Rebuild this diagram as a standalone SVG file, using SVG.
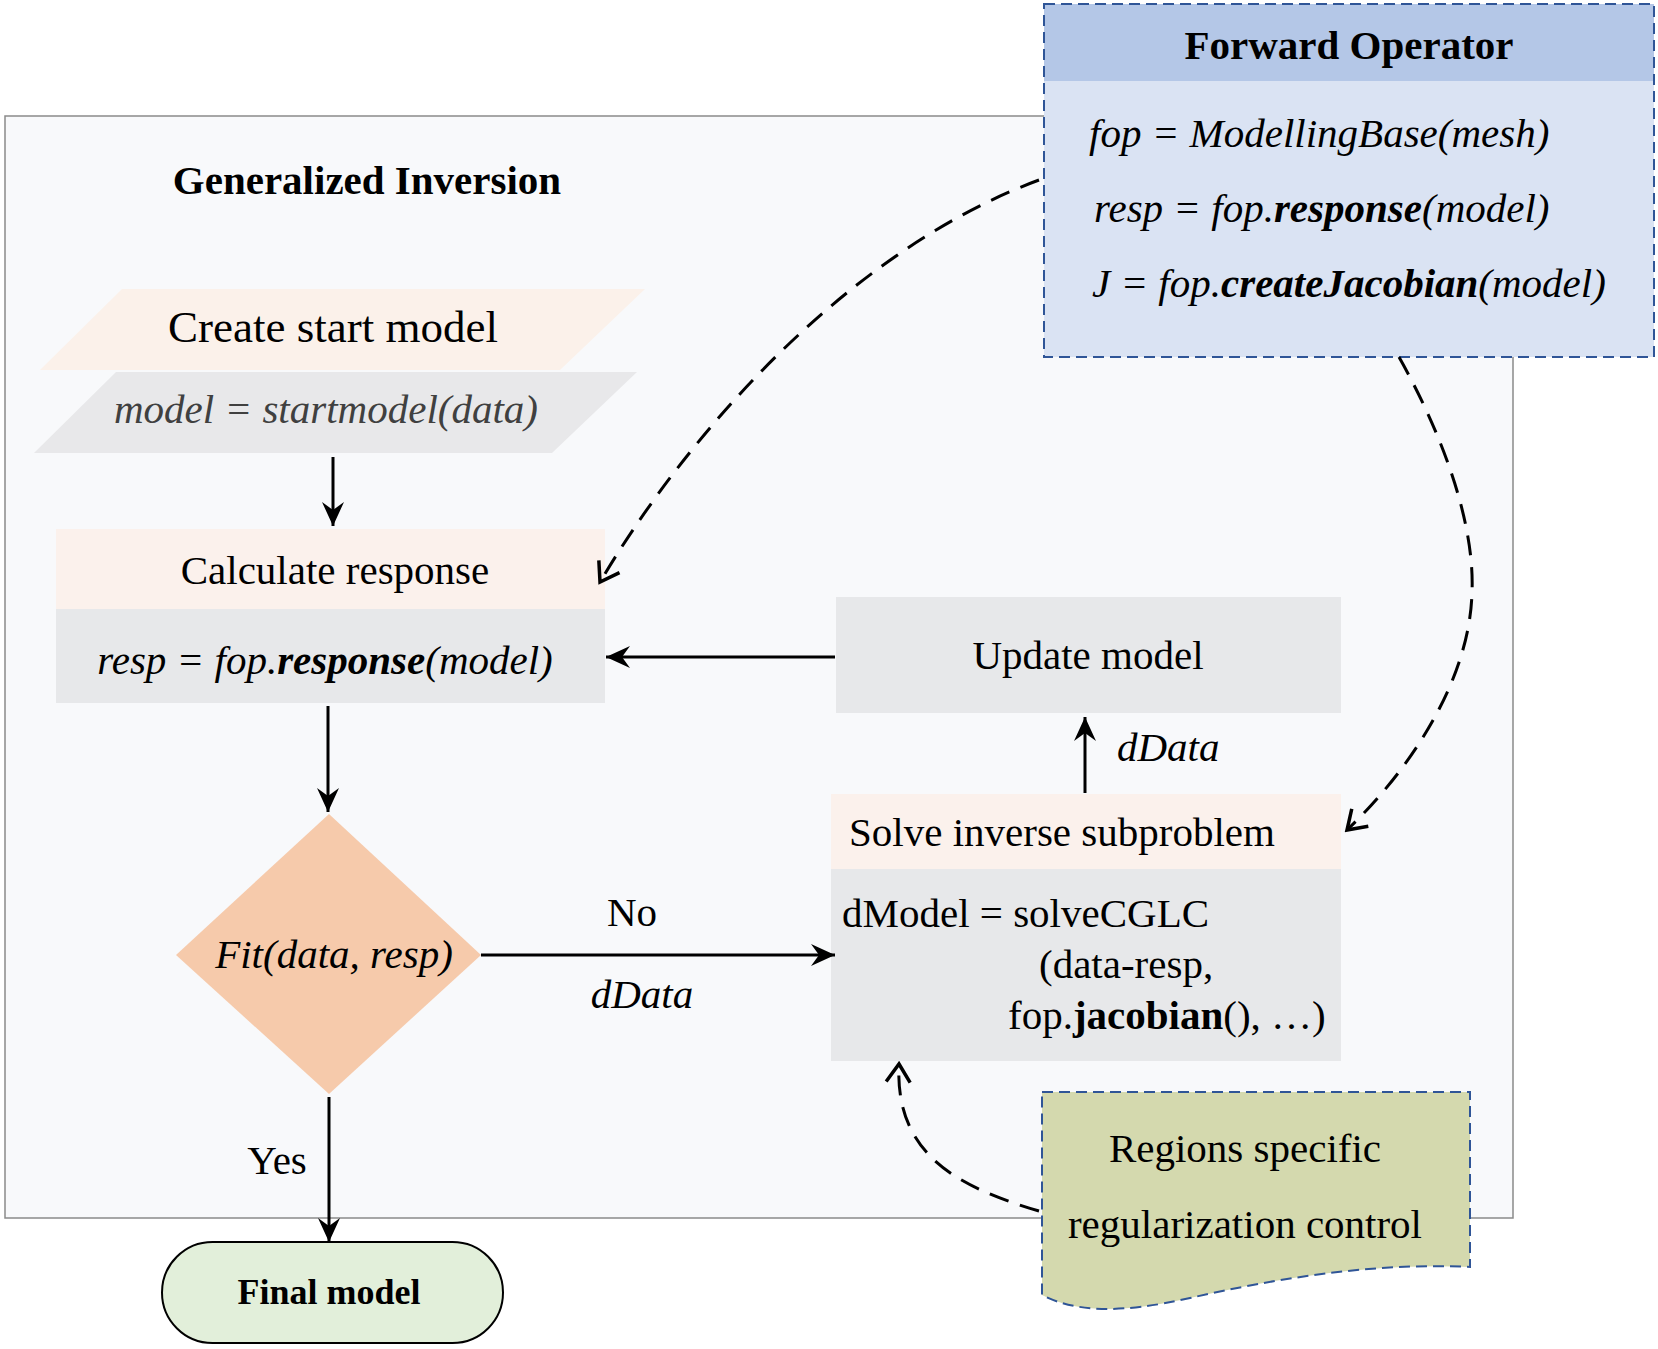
<svg xmlns="http://www.w3.org/2000/svg" width="1658" height="1349" viewBox="0 0 1658 1349">
<style>
text{font-family:"Liberation Serif","Times New Roman",serif;font-size:41px;fill:#000}
.b{font-weight:bold}
.i{font-style:italic}
.bi{font-weight:bold;font-style:italic}
.c{text-anchor:middle}
.sol{fill:none;stroke:#000;stroke-width:3}
.dash{fill:none;stroke:#000;stroke-width:3}
.dash{stroke-dasharray:20 12}
.bd{stroke:#2f5597;stroke-width:2;stroke-dasharray:11 6}
</style>
<defs>
<marker id="ah" viewBox="-26 -13 28 26" refX="0" refY="0" markerWidth="28" markerHeight="26" orient="auto" markerUnits="userSpaceOnUse">
<path d="M0,0 L-24,-11 L-16,0 L-24,11 Z" fill="#000"/>
</marker>
<marker id="ao" viewBox="-22 -15 25 30" refX="0" refY="0" markerWidth="25" markerHeight="30" orient="auto" markerUnits="userSpaceOnUse">
<path d="M-18,-12 L0,0 L-18,12" fill="none" stroke="#000" stroke-width="3.5"/>
</marker>
</defs>
<rect width="1658" height="1349" fill="#fff"/>

<g id="generalized-inversion">
<rect x="5" y="116" width="1508" height="1102" fill="#f8f9fb" stroke="#8a8a8a" stroke-width="1.5"/>
<text class="b c" x="367" y="194">Generalized Inversion</text>
</g>

<g id="forward-operator">
<rect x="1044" y="4" width="610" height="353" fill="#dae3f3"/>
<rect x="1044" y="4" width="610" height="77" fill="#b4c7e7"/>
<rect x="1044" y="4" width="610" height="353" fill="none" class="bd"/>
<text class="b c" x="1349" y="59">Forward Operator</text>
<text class="i" x="1089" y="147">fop  =  ModellingBase(mesh)</text>
<text class="i" x="1094" y="222">resp = fop.<tspan class="bi">response</tspan>(model)</text>
<text class="i" x="1092" y="297">J = fop.<tspan class="bi">createJacobian</tspan>(model)</text>
</g>

<g id="create-start-model">
<polygon points="122,289 645,289 560,370 40,370" fill="#fbf1ea"/>
<polygon points="116,372 637,372 552,453 34,453" fill="#e8e8ea"/>
<text class="c" x="333" y="342" style="font-size:45px">Create start model</text>
<text class="i c" x="326" y="423" style="fill:#404040">model = startmodel(data)</text>
</g>

<g id="calculate-response">
<rect x="56" y="529" width="549" height="80" fill="#fbf1ec"/>
<rect x="56" y="609" width="549" height="94" fill="#e7e8ea"/>
<text class="c" x="335" y="584">Calculate response</text>
<text class="i c" x="325" y="674">resp = fop.<tspan class="bi">response</tspan>(model)</text>
</g>

<g id="fit-decision">
<polygon points="329,814 481,955 329,1094 176,955" fill="#f6caab"/>
<text class="i c" x="334" y="968">Fit(data, resp)</text>
</g>

<g id="update-model">
<rect x="836" y="597" width="505" height="116" fill="#e7e8ea"/>
<text class="c" x="1088" y="669">Update model</text>
</g>

<g id="solve-inverse">
<rect x="831" y="794" width="510" height="75" fill="#fbf1ec"/>
<rect x="831" y="869" width="510" height="192" fill="#e7e8ea"/>
<text x="849" y="846">Solve inverse subproblem</text>
<text x="842" y="927">dModel = solveCGLC</text>
<text x="1039" y="978">(data-resp,</text>
<text x="1008" y="1029">fop.<tspan class="b">jacobian</tspan>(), …)</text>
</g>

<g id="regions-control">
<path d="M1042,1092 L1470,1092 L1470,1267 C1370,1262 1270,1280 1190,1298 C1120,1314 1075,1312 1042,1295 Z" fill="#d4d9ae" class="bd"/>
<text class="c" x="1245" y="1162">Regions specific</text>
<text class="c" x="1245" y="1238">regularization control</text>
</g>

<g id="final-model">
<rect x="162" y="1242" width="341" height="101" rx="50.5" ry="50.5" fill="#e2efda" stroke="#000" stroke-width="2"/>
<text class="b c" x="329" y="1304" style="font-size:36px">Final model</text>
</g>

<g id="connectors">
<line class="sol" x1="333" y1="457" x2="333" y2="526" marker-end="url(#ah)"/>
<line class="sol" x1="328" y1="706" x2="328" y2="812" marker-end="url(#ah)"/>
<line class="sol" x1="481" y1="955" x2="835" y2="955" marker-end="url(#ah)"/>
<line class="sol" x1="329" y1="1097" x2="329" y2="1242" marker-end="url(#ah)"/>
<line class="sol" x1="835" y1="657" x2="606" y2="657" marker-end="url(#ah)"/>
<line class="sol" x1="1085" y1="793" x2="1085" y2="717" marker-end="url(#ah)"/>
<path class="dash" d="M1039,180 C850,250 690,430 600,582" marker-end="url(#ao)"/>
<path class="dash" d="M1399,357 C1440,430 1475,520 1472,592 C1470,680 1410,770 1347,830" marker-end="url(#ao)"/>
<path class="dash" d="M1039,1211 C950,1185 895,1150 899,1064" marker-end="url(#ao)"/>
<text class="c" x="632" y="926">No</text>
<text class="i c" x="642" y="1008">dData</text>
<text class="i" x="1117" y="761">dData</text>
<text class="c" x="277" y="1174">Yes</text>
</g>
</svg>
